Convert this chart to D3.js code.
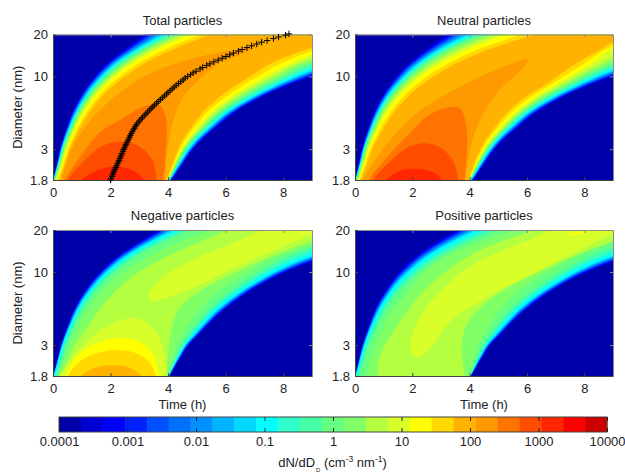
<!DOCTYPE html>
<html><head><meta charset="utf-8">
<script src="https://cdn.jsdelivr.net/npm/d3@7"></script>
<style>
html,body{margin:0;padding:0;background:#fff}
svg{display:block}
text{font-family:"Liberation Sans",Arial,sans-serif;font-size:13px;fill:#222}
</style></head><body><svg id="c" width="625" height="473"></svg>
<script>
// ---------- data ----------
const bandColors=["#0000a8","#0000d4","#0000ff","#0020ff","#0050ff","#0070ff","#0090ff","#00b4ff","#00d8ff","#00ffff","#30ffcc","#45ffa5","#66ff80","#80ff66","#b3ff40","#d9ff2b","#ffff00","#ffd900","#ffb300","#ff9900","#ff7300","#ff4d00","#ff2600","#ff0000","#cc0000"];
const cbarTicks=[0.0001,0.001,0.01,0.1,1,10,100,1000,10000];
const cbarLabels=["0.0001","0.001","0.01","0.1","1","10","100","1000","10000"];
const xTicks=[0,2,4,6,8];
const yTicks=[1.8,3,10,20];
const rowDiameters=[1.8,2.1,2.5,3,3.6,4.5,5.5,7,8.5,10,12.5,16,20];

// Total
const totalAnchors=[1,9,13,16,18];
const totalLeft=[
[0,.08,.16,.24,.35,.5,.66,.91,1.17,1.43,1.88,2.54,3.15],
[.02,.11,.21,.3,.43,.61,.8,1.09,1.38,1.69,2.2,3,3.85],
[.06,.16,.26,.37,.51,.71,.91,1.23,1.56,1.9,2.47,3.32,4.28],
[.12,.23,.35,.46,.62,.83,1.06,1.41,1.77,2.15,2.78,3.72,4.8],
[.2,.33,.46,.58,.76,1,1.26,1.66,2.07,2.5,3.2,4.28,5.5]];
const totalRight=[
[4.12,4.35,4.6,4.88,5.25,5.8,6.33,7.2,8.1,9,10.5,12.9,15.5],
[4.04,4.24,4.47,4.72,5.05,5.55,6.05,6.88,7.7,8.45,9.8,12,14.5],
[4,4.17,4.36,4.58,4.88,5.33,5.78,6.5,7.23,7.9,8.85,11,13],
[3.97,4.12,4.28,4.47,4.72,5.12,5.5,6.15,6.8,7.4,8.3,9.7,12],
[3.95,4.07,4.2,4.35,4.55,4.88,5.2,5.75,6.3,6.85,7.6,9,11]];
const totalInner=[
{band:19,pts:[[.3,1.7],[.3,1.8],[.64,3],[1.18,4.5],[2.09,7],[3.14,10],[4.3,12.5],[5.6,14.6],[7.08,16.4],[6.6,14.6],[5.8,12.5],[5.2,10],[4.5,7],[4.15,4.5],[3.98,3],[3.89,1.8],[3.89,1.7]]},
{band:20,pts:[[.41,1.7],[.41,1.8],[.93,2.6],[1.63,3.97],[2.32,4.84],[3.02,5.9],[3.66,6.3],[3.91,5.2],[3.95,3.97],[3.91,2.6],[3.83,1.8],[3.83,1.7]]},
{band:21,pts:[[.52,1.7],[.52,1.8],[1.05,2.44],[1.74,3.18],[2.5,3.4],[3.14,3],[3.48,2.44],[3.6,1.8],[3.6,1.7]]},
{band:22,pts:[[1,1.7],[1,1.8],[1.5,2.1],[2.15,2.25],[2.8,2.1],[3.15,1.8],[3.15,1.7]]}];
const crossT=[2,2.02,2.05,2.07,2.1,2.125,2.15,2.18,2.21,2.24,2.27,2.3,2.32,2.35,2.37,2.4,2.43,2.45,2.48,2.51,2.54,2.57,2.6,2.63,2.66,2.69,2.72,2.75,2.79,2.83,2.86,2.9,2.95,3,3.06,3.11,3.17,3.23,3.29,3.35,3.41,3.47,3.53,3.6,3.66,3.73,3.8,3.87,3.94,4,4.07,4.14,4.21,4.28,4.36,4.44,4.52,4.59,4.68,4.78,4.87,4.97,5.11,5.2,5.34,5.45,5.59,5.74,5.88,6.01,6.14,6.27,6.44,6.57,6.74,6.9,7.08,7.25,7.44,7.66,7.84,8.08,8.2];
const crossD=[1.8,1.85,1.91,1.97,2.03,2.09,2.15,2.21,2.28,2.35,2.42,2.49,2.57,2.64,2.72,2.8,2.89,2.98,3.06,3.16,3.25,3.35,3.45,3.55,3.66,3.77,3.88,4,4.12,4.24,4.37,4.5,4.64,4.78,4.92,5.07,5.22,5.38,5.54,5.71,5.88,6.05,6.23,6.42,6.61,6.81,7.02,7.23,7.45,7.67,7.9,8.14,8.38,8.63,8.89,9.16,9.43,9.72,10,10.3,10.6,10.9,11.3,11.6,12,12.3,12.7,13.1,13.5,13.9,14.3,14.7,15.2,15.6,16.1,16.6,17.1,17.6,18.1,18.7,19.2,19.8,20.2];

// Neutral
const neutralAnchors=[1,9,13,16,18];
const neutralLeft=[
[0,.08,.16,.24,.35,.5,.66,.91,1.17,1.43,1.88,2.54,3.2],
[.02,.11,.21,.3,.43,.61,.8,1.09,1.4,1.72,2.25,3.05,4],
[.06,.16,.26,.37,.51,.71,.92,1.25,1.6,1.95,2.55,3.45,4.55],
[.12,.23,.35,.47,.64,.86,1.1,1.48,1.87,2.28,3,4.05,5.3],
[.2,.33,.47,.6,.8,1.06,1.35,1.8,2.25,2.75,3.55,4.8,6.3]];
const neutralRight=[
[4.12,4.35,4.6,4.88,5.25,5.8,6.33,7.2,8.1,9,10.5,12.9,15.5],
[4.04,4.24,4.47,4.72,5.05,5.55,6.05,6.88,7.7,8.45,9.8,12,14.5],
[4,4.17,4.36,4.6,4.9,5.35,5.82,6.55,7.3,7.95,8.95,10.5,12],
[3.97,4.12,4.3,4.5,4.77,5.18,5.6,6.25,6.92,7.5,8.3,9,10.5],
[3.95,4.07,4.2,4.38,4.6,4.95,5.3,5.9,6.55,7.05,7.75,8.65,9.4]];
const neutralInner=[
{band:19,pts:[[.3,1.7],[.3,1.8],[.75,2.6],[1.45,3.97],[2.38,5.9],[3.31,7.7],[4.47,10.2],[6.04,13.2],[5.63,10.3],[5.17,8.5],[4.59,5.9],[4.18,3.97],[4,2.8],[3.83,1.8],[3.83,1.7]]},
{band:20,pts:[[.5,1.7],[.5,1.8],[1.1,2.6],[1.8,3.7],[2.6,5.3],[3.31,6],[3.66,5.9],[3.87,4.6],[3.91,3.2],[3.83,1.8],[3.83,1.7]]},
{band:21,pts:[[.64,1.7],[.64,1.8],[1.22,2.44],[1.8,3.05],[2.38,3.3],[3.02,3.05],[3.43,2.44],[3.6,1.8],[3.6,1.7]]},
{band:22,pts:[[1.1,1.7],[1.1,1.8],[1.5,2.07],[1.97,2.17],[2.67,2.07],[3.02,1.8],[3.02,1.7]]}];

// Negative
const negativeAnchors=[1,9,12,13];
const negativeLeft=[
[0,.09,.18,.27,.4,.57,.75,1.03,1.32,1.62,2.13,2.88,3.65],
[.02,.12,.22,.33,.47,.67,.87,1.19,1.52,1.86,2.43,3.28,4.2],
[.12,.23,.35,.46,.62,.83,1.06,1.41,1.77,2.15,2.78,3.72,4.77],
[.17,.3,.43,.55,.73,.98,1.23,1.63,2.04,2.47,3.2,4.25,5.45]];
const negativeRight=[
[4.04,4.24,4.47,4.72,5.1,5.55,6.03,6.72,7.4,8.1,9.35,11,13],
[4.02,4.18,4.38,4.6,4.93,5.35,5.78,6.43,7.08,7.7,8.75,10.5,12.5],
[4,4.13,4.28,4.47,4.72,5.08,5.45,6.03,6.6,7.15,8,9.3,11],
[3.99,4.1,4.2,4.32,4.5,4.8,5.13,5.62,6.2,6.8,7.6,9.1,10.5]];
const negativeInner=[
{band:14,pts:[[.35,1.7],[.35,1.8],[.64,2.69],[1.16,3.94],[1.97,6.6],[2.79,9.4],[3.95,12.9],[5.11,16.5],[6.04,20],[6.5,23],[9.76,23],[9.76,18.2],[9,16.6],[7.43,12.5],[6.27,9.8],[5.34,7.85],[4.47,5.8],[4.18,4.41],[4.06,3.35],[3.98,2.28],[3.93,1.75],[3.93,1.7]]},
{band:15,pts:[[3.31,6.85],[3.48,7.85],[3.95,9.53],[5.11,12.9],[6.5,16.96],[7.2,20],[7.43,23],[9.76,23],[9.76,19.5],[9,18.4],[8.01,15.2],[6.27,10.6],[5.11,8.07],[3.72,6.3],[3.43,6.2]]},
{band:15,pts:[[.23,1.7],[.23,1.8],[.75,2.55],[1.51,3.64],[2.2,4.41],[2.9,4.66],[3.37,4.18],[3.72,3.26],[3.89,2.41],[3.95,1.75],[3.95,1.7]]},
{band:16,pts:[[.46,1.7],[.46,1.8],[.87,2.55],[1.51,3.08],[2.2,3.35],[3.02,3.17],[3.48,2.55],[3.69,1.8],[3.69,1.7]]},
{band:17,pts:[[.52,1.7],[.52,1.8],[.93,2.29],[1.51,2.62],[2.15,2.76],[2.9,2.62],[3.37,2.22],[3.58,1.8],[3.58,1.7]]},
{band:18,pts:[[.99,1.7],[.99,1.8],[1.39,2.04],[2.09,2.16],[2.73,2.04],[3.08,1.8],[3.08,1.7]]}];

// Positive
const positiveAnchors=[1,9,12,13];
const positiveLeft=[
[0,.09,.17,.26,.38,.54,.71,.98,1.25,1.54,2.02,2.74,3.54],
[.01,.11,.21,.32,.46,.66,.86,1.18,1.5,1.85,2.42,3.27,4.23],
[.13,.25,.36,.48,.64,.87,1.1,1.47,1.85,2.24,2.9,3.87,4.97],
[.4,.47,.57,.7,.87,1.1,1.37,1.78,2.1,2.4,3.05,4.2,5.6]];
const positiveRight=[
[4.04,4.24,4.47,4.72,5.1,5.55,6.03,6.72,7.4,8.1,9.35,11,13],
[4.02,4.18,4.38,4.6,4.93,5.35,5.78,6.43,7.08,7.7,8.75,10.5,12.5],
[4,4.13,4.28,4.47,4.72,5.08,5.45,6.03,6.6,7.15,8,9.3,11],
[3.98,4.07,4.16,4.3,4.5,4.78,5.1,5.6,6.15,6.75,7.55,8.8,10]];
const positiveInner=[
{band:14,pts:[[.81,1.7],[.81,1.8],[.81,2.29],[1.05,3],[1.57,4.41],[2.26,6.85],[3.08,9.8],[4.24,13.96],[5.4,17.4],[6.21,20],[6.8,23],[10,23],[10,18.5],[9,16.5],[7.72,13.2],[6.56,10.3],[5.4,7.84],[4.47,5.8],[3.89,4.18],[3.72,3],[3.83,1.8],[3.83,1.7]]},
{band:15,pts:[[1.92,2.84],[1.97,3.44],[2.38,5.2],[3.08,7.64],[4,10.9],[5.17,14.4],[6.33,17.9],[6.79,20],[7.26,23],[10,23],[10,19.5],[9,18.4],[7.72,14],[6.56,10.6],[5.4,8.07],[4.24,5.96],[3.31,4.41],[2.73,3],[2.38,2.55],[2.13,2.45]]},
{band:16,pts:[[7.4,18.1],[7.9,19.5],[8.1,19.6],[7.7,18.4]]}];

const panelTitles=["Total particles","Neutral particles","Negative particles","Positive particles"];
const panelBoxes=[[53,312,180,34.5],[355,613,180,34.5],[53,312,376,230],[355,613,376,230]];
const panelAnchors=[totalAnchors,neutralAnchors,negativeAnchors,positiveAnchors];
const panelLeft=[totalLeft,neutralLeft,negativeLeft,positiveLeft];
const panelRight=[totalRight,neutralRight,negativeRight,positiveRight];
const panelInner=[totalInner,neutralInner,negativeInner,positiveInner];

// ---------- drawing ----------
const svg=d3.select("#c");
const axisDark="#444",axisGrey="#8a8a8a";
const fontStack='"Liberation Sans",Arial,sans-serif';
function styleAxis(color,size){return g=>{g.selectAll("path,line").attr("stroke",color).attr("stroke-width",1);g.selectAll("text").attr("fill","#222").style("font-size",size+"px").style("font-family",fontStack);};}
const fmtY=d=>String(d);

panelTitles.forEach((title,p)=>{
  const [x0,x1,y0,y1]=panelBoxes[p];
  const x=d3.scaleLinear().domain([0,9]).range([x0,x1]);
  const y=d3.scaleLog().domain([1.8,20]).range([y0,y1]);
  const clipId="clip"+p;
  svg.append("clipPath").attr("id",clipId).append("rect").attr("x",x0).attr("y",y1).attr("width",x1-x0).attr("height",y0-y1);
  const g=svg.append("g").attr("clip-path",`url(#${clipId})`);
  g.append("rect").attr("x",x0).attr("y",y1).attr("width",x1-x0).attr("height",y0-y1).attr("fill",bandColors[0]);
  const anchors=panelAnchors[p],L=panelLeft[p],R=panelRight[p];
  const top=anchors[anchors.length-1];
  const rowIdx=d3.range(rowDiameters.length);
  d3.range(1,top+1).forEach(b=>{
    const area=d3.area().curve(d3.curveMonotoneY)
      .y(r=>y(rowDiameters[r]))
      .x0(r=>x(d3.scaleLinear().domain(anchors).range(L.map(a=>a[r]))(b)))
      .x1(r=>x(d3.scaleLinear().domain(anchors).range(R.map(a=>a[r]))(b)));
    g.append("path").attr("d",area(rowIdx)).attr("fill",bandColors[b]);
  });
  const line=d3.line().curve(d3.curveCatmullRomClosed.alpha(.5)).x(d=>x(d[0])).y(d=>y(d[1]));
  panelInner[p].forEach(s=>g.append("path").attr("d",line(s.pts)).attr("fill",bandColors[s.band]));

  // box, ticks
  svg.append("g").attr("transform",`translate(0,${y1})`)
    .call(d3.axisTop(x).tickValues(xTicks).tickSize(-3).tickSizeOuter(0).tickFormat("")).call(styleAxis(axisGrey,13));
  svg.append("g").attr("transform",`translate(${x1},0)`)
    .call(d3.axisRight(y).tickValues(yTicks).tickSize(-3).tickSizeOuter(0).tickFormat("")).call(styleAxis(axisGrey,13));
  svg.append("g").attr("transform",`translate(0,${y0})`)
    .call(d3.axisBottom(x).tickValues(xTicks).tickSize(-3).tickSizeOuter(0).tickPadding(8).tickFormat(d3.format("d"))).call(styleAxis(axisDark,13));
  svg.append("g").attr("transform",`translate(${x0},0)`)
    .call(d3.axisLeft(y).tickValues(yTicks).tickSize(-3).tickSizeOuter(0).tickPadding(5).tickFormat(fmtY)).call(styleAxis(axisDark,13));

  if(p===0){
    const cross=svg.append("g");
    crossT.forEach((t,i)=>{
      const cx=x(t),cy=y(crossD[i]);
      cross.append("path").attr("d",`M${cx-3.2},${cy}H${cx+3.2}M${cx},${cy-3.2}V${cy+3.2}`).attr("stroke","#000").attr("stroke-width",1).attr("fill","none");
    });
  }
  svg.append("text").attr("x",(x0+x1)/2).attr("y",y1-10).attr("text-anchor","middle").text(title);
  if(p%2===0) svg.append("text").attr("transform",`translate(22,${(y0+y1)/2}) rotate(-90)`).attr("text-anchor","middle").text("Diameter (nm)");
  if(p>=2) svg.append("text").attr("x",(x0+x1)/2).attr("y",y0+32.5).attr("text-anchor","middle").text("Time (h)");
});

// colour bar
const cb=d3.scaleLog().domain([0.0001,10000]).range([59,607]);
const cbY0=417,cbY1=432;
bandColors.forEach((c,i)=>{
  const a=Math.pow(10,-4+8*i/bandColors.length),b=Math.pow(10,-4+8*(i+1)/bandColors.length);
  svg.append("rect").attr("x",cb(a)).attr("y",cbY0).attr("width",cb(b)-cb(a)+.4).attr("height",cbY1-cbY0).attr("fill",c);
});
svg.append("rect").attr("x",59).attr("y",cbY0).attr("width",548).attr("height",cbY1-cbY0).attr("fill","none").attr("stroke",axisDark);
svg.append("g").attr("transform",`translate(0,${cbY1})`)
  .call(d3.axisBottom(cb).tickValues(cbarTicks).tickSize(-4).tickSizeOuter(0).tickPadding(5).tickFormat((d,i)=>cbarLabels[i])).call(styleAxis("#222",13))
  .call(g=>g.select(".domain").remove());
svg.append("g").attr("transform",`translate(0,${cbY0})`)
  .call(d3.axisTop(cb).tickValues(cbarTicks).tickSize(-4).tickSizeOuter(0).tickFormat("")).call(styleAxis("#222",13))
  .call(g=>g.select(".domain").remove());
const lab=svg.append("text").attr("x",332.5).attr("y",467).attr("text-anchor","middle");
lab.append("tspan").text("dN/dD");
lab.append("tspan").attr("dx",1).attr("dy",4.5).style("font-size","6px").text("D");
lab.append("tspan").attr("dy",-4.5).text(" (cm");
lab.append("tspan").attr("dy",-5).style("font-size","8.5px").text("-3");
lab.append("tspan").attr("dy",5).text(" nm");
lab.append("tspan").attr("dy",-5).style("font-size","8.5px").text("-1");
lab.append("tspan").attr("dy",5).text(")");
</script></body></html>
